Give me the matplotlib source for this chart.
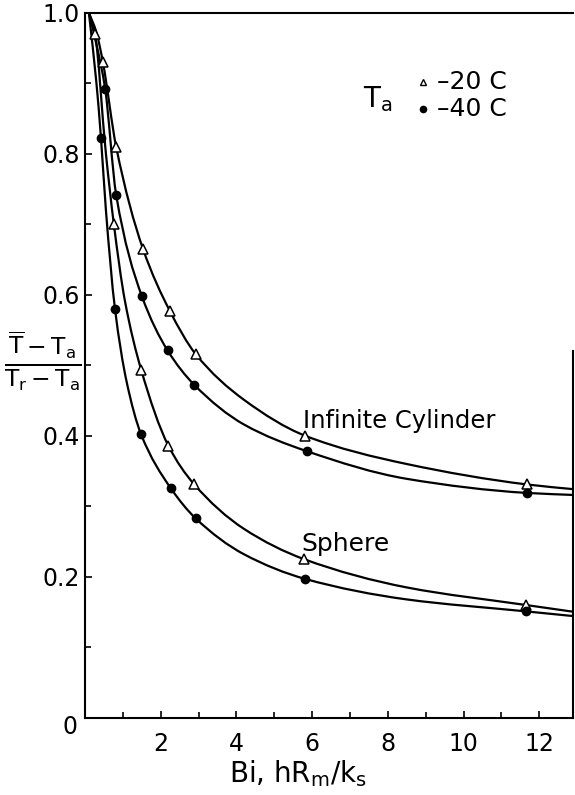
import numpy as np
import matplotlib
matplotlib.use('Agg')
import matplotlib.pyplot as plt
from matplotlib.path import Path
from matplotlib.patches import PathPatch
from matplotlib.ticker import MultipleLocator

# traced curves
cyl20_x = [0.1, 0.3, 0.47, 0.82, 1.53, 2.24, 2.92, 4.2, 5.82, 8.5, 11.68, 12.97]
cyl20_y = [1.0, 0.972, 0.93, 0.81, 0.665, 0.577, 0.516, 0.451, 0.400, 0.360, 0.331, 0.324]
cyl40_x = [0.1, 0.3, 0.53, 0.82, 1.5, 2.18, 2.89, 4.2, 5.87, 8.5, 11.68, 12.97]
cyl40_y = [1.0, 0.955, 0.892, 0.742, 0.598, 0.521, 0.472, 0.416, 0.378, 0.339, 0.319, 0.316]
sph20_x = [0.1, 0.26, 0.55, 0.76, 1.05, 1.48, 2.2, 2.87, 4.2, 5.79, 8.5, 11.66, 12.97]
sph20_y = [1.0, 0.97, 0.80, 0.70, 0.592, 0.494, 0.386, 0.332, 0.268, 0.225, 0.185, 0.160, 0.150]
sph40_x = [0.1, 0.3, 0.42, 0.55, 0.79, 1.1, 1.48, 2.26, 2.92, 4.2, 5.82, 8.5, 11.66, 12.97]
sph40_y = [1.0, 0.9, 0.822, 0.72, 0.58, 0.476, 0.402, 0.326, 0.283, 0.232, 0.197, 0.168, 0.151, 0.144]

# measured points
cyl20_px = [0.47, 0.82, 1.53, 2.24, 2.92, 5.82, 11.68]
cyl20_py = [0.93, 0.81, 0.665, 0.577, 0.516, 0.400, 0.331]
cyl40_px = [0.53, 0.82, 1.5, 2.18, 2.89, 5.87, 11.68]
cyl40_py = [0.892, 0.742, 0.598, 0.521, 0.472, 0.378, 0.319]
sph20_px = [0.26, 0.76, 1.48, 2.2, 2.87, 5.79, 11.66]
sph20_py = [0.97, 0.70, 0.494, 0.386, 0.332, 0.225, 0.160]
sph40_px = [0.42, 0.79, 1.48, 2.26, 2.92, 5.82, 11.66]
sph40_py = [0.822, 0.58, 0.402, 0.326, 0.283, 0.197, 0.151]

plt.rcParams['font.family'] = ['DejaVu Sans']
plt.rcParams['mathtext.fontset'] = 'dejavusans'


def smooth_path(x, y):
    # bezier segments through the traced points, slopes as in pchip
    x = np.asarray(x, float)
    y = np.asarray(y, float)
    h = np.diff(x)
    d = np.diff(y) / h
    m = np.zeros_like(x)
    for i in range(1, len(x) - 1):
        if d[i - 1] * d[i] > 0:
            w1 = 2 * h[i] + h[i - 1]
            w2 = h[i] + 2 * h[i - 1]
            m[i] = (w1 + w2) / (w1 / d[i - 1] + w2 / d[i])
    m[0] = d[0]
    m[-1] = d[-1]
    verts = [(x[0], y[0])]
    codes = [Path.MOVETO]
    for i in range(len(x) - 1):
        verts += [(x[i] + h[i] / 3, y[i] + m[i] * h[i] / 3),
                  (x[i + 1] - h[i] / 3, y[i + 1] - m[i + 1] * h[i] / 3),
                  (x[i + 1], y[i + 1])]
        codes += [Path.CURVE4] * 3
    return Path(verts, codes)


fig = plt.figure(figsize=(5.75, 7.95), dpi=100)
ax = fig.add_axes([0.148, 0.097, 0.849, 0.887])

for lx, ly in [(cyl20_x, cyl20_y), (cyl40_x, cyl40_y), (sph20_x, sph20_y), (sph40_x, sph40_y)]:
    ax.add_patch(PathPatch(smooth_path(lx, ly), fc='none', ec='black', lw=1.6, zorder=2))

tri = dict(marker='^', ms=6.5, mfc='white', mec='black', mew=1.1, ls='none', zorder=3)
dot = dict(marker='o', ms=6, mfc='black', mec='black', ls='none', zorder=3)
ax.plot(cyl20_px, cyl20_py, **tri)
ax.plot(sph20_px, sph20_py, **tri)
ax.plot(cyl40_px, cyl40_py, **dot)
ax.plot(sph40_px, sph40_py, **dot)

ax.set_xlim(0, 12.9)
ax.set_ylim(0, 1.0)
ax.xaxis.set_minor_locator(MultipleLocator(1))
ax.yaxis.set_minor_locator(MultipleLocator(0.1))
ax.set_xticks([2, 4, 6, 8, 10, 12])
ax.set_xticklabels(['2', '4', '6', '8', '10', '12'])
ax.set_yticks([0, 0.2, 0.4, 0.6, 0.8, 1.0])
ax.set_yticklabels(['', '0.2', '0.4', '0.6', '0.8', '1.0'])
ax.tick_params(which='both', direction='in', labelsize=17, width=1.2)
ax.tick_params(which='major', length=5)
ax.tick_params(which='minor', length=4)
ax.tick_params(axis='x', pad=10)
ax.tick_params(axis='y', pad=4)
for s in ax.spines.values():
    s.set_linewidth(1.5)
ax.spines['right'].set_bounds(0, 0.52)

fig.text(70 / 575, 1 - 727 / 795, '0', fontsize=17, ha='center', va='center')

ax.text(5.77, 0.411, 'Infinite Cylinder', fontsize=17.5, va='baseline')
ax.text(5.71, 0.236, 'Sphere', fontsize=18, va='baseline')

ax.text(7.35, 0.878, r'T$_\mathregular{a}$', fontsize=20, va='center')
ax.plot([8.94], [0.902], marker='^', ms=5, mfc='white', mec='black', mew=1, ls='none')
ax.plot([8.94], [0.864], marker='o', ms=4.5, color='black', ls='none')
ax.text(9.3, 0.902, '\u201320 C', fontsize=18, va='center')
ax.text(9.3, 0.864, '\u201340 C', fontsize=18, va='center')

fig.text(0.074, 0.546,
         r'$\frac{\overline{\mathrm{T}}-\mathrm{T_a}}{\mathrm{T_r}-\mathrm{T_a}}$',
         fontsize=24, ha='center', va='center')
fig.text(0.518, 0.027, r'Bi, hR$_\mathregular{m}$/k$_\mathregular{s}$', fontsize=20,
         ha='center', va='center')

fig.savefig('out.png', dpi=100)
